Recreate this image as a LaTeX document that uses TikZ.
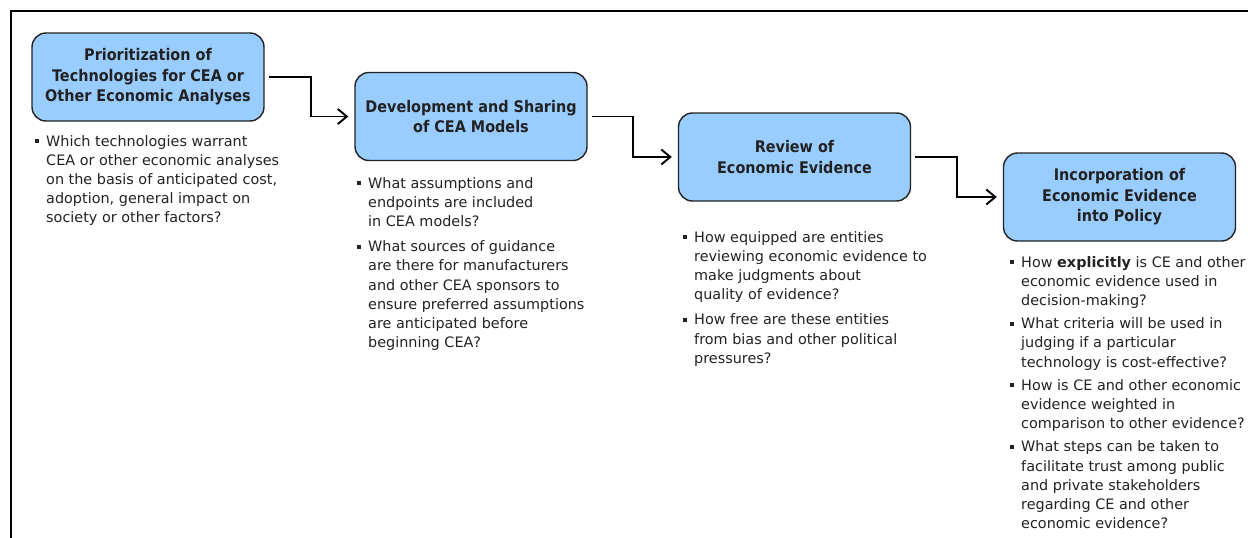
\documentclass[tikz,border=0pt]{standalone}
\usepackage{fontspec}
\setmainfont{DejaVu Sans}
\newfontfamily\stagefont[FakeStretch=0.9]{DejaVu Sans}
\usepackage{tikz}
\usetikzlibrary{arrows.meta}
\definecolor{boxblue}{HTML}{99CCFF}
\definecolor{ink}{HTML}{222222}
\newcommand{\qdot}{\rule[3pt]{4pt}{4pt}}

\begin{document}
\begin{tikzpicture}[x=1pt,y=-1pt,
    stage/.style={draw=ink, line width=1.4pt, fill=boxblue, rounded corners=14pt,
      minimum width=232pt, minimum height=88pt, align=center, text=ink,
      font=\stagefont\bfseries\fontsize{16}{20.5}\selectfont},
    quest/.style={anchor=base west, inner sep=0pt, text=ink,
      font=\fontsize{14.4}{19.2}\selectfont},
    flow/.style={line width=1.9pt, -{Straight Barb[length=9pt,width=15pt]},
      shorten <=4pt, shorten >=6pt}]
    \useasboundingbox (0,0) rectangle (1248,538);

    %% Frame
    \draw[line width=2pt] (11,538) -- (11,11) -- (1248,11);

    %% Stages
    \node[stage] (prio) at (148,77)
    {Prioritization of\\Technologies for CEA or\\Other Economic Analyses};
    \node[stage] (devel) at (471,116.5)
    {Development and Sharing\\of CEA Models};
    \node[stage] (review) at (794.5,157)
    {Review of\\Economic Evidence};
    \node[stage] (incorp) at (1119.5,197)
    {Incorporation of\\Economic Evidence\\into Policy};

    %% Questions
    \node[quest] (prioq) at (35,146)
    {\begin{tabular}[t]{@{}l@{\hspace{7pt}}l@{}}
        \qdot & Which technologies warrant\\
        & CEA or other economic analyses\\
        & on the basis of anticipated cost,\\
        & adoption, general impact on\\
        & society or other factors?
    \end{tabular}};
    \node[quest] (develq) at (357,188)
    {\begin{tabular}[t]{@{}l@{\hspace{7pt}}l@{}}
        \qdot & What assumptions and\\
        & endpoints are included\\
        & in CEA models?\\[6pt]
        \qdot & What sources of guidance\\
        & are there for manufacturers\\
        & and other CEA sponsors to\\
        & ensure preferred assumptions\\
        & are anticipated before\\
        & beginning CEA?
    \end{tabular}};
    \node[quest] (reviewq) at (683,242)
    {\begin{tabular}[t]{@{}l@{\hspace{7pt}}l@{}}
        \qdot & How equipped are entities\\
        & reviewing economic evidence to\\
        & make judgments about\\
        & quality of evidence?\\[6pt]
        \qdot & How free are these entities\\
        & from bias and other political\\
        & pressures?
    \end{tabular}};
    \node[quest] (incorpq) at (1010,267)
    {\begin{tabular}[t]{@{}l@{\hspace{7pt}}l@{}}
        \qdot & How \textbf{explicitly} is CE and other\\
        & economic evidence used in\\
        & decision-making?\\[4pt]
        \qdot & What criteria will be used in\\
        & judging if a particular\\
        & technology is cost-effective?\\[4pt]
        \qdot & How is CE and other economic\\
        & evidence weighted in\\
        & comparison to other evidence?\\[4pt]
        \qdot & What steps can be taken to\\
        & facilitate trust among public\\
        & and private stakeholders\\
        & regarding CE and other\\
        & economic evidence?
    \end{tabular}};

    %% Flow
    \draw[flow] (prio.east) -- ++(46,0) |- (devel.west);
    \draw[flow] (devel.east) -- ++(45,0) |- (review.west);
    \draw[flow] (review.east) -- ++(46,0) |- (incorp.west);
\end{tikzpicture}
\end{document}
